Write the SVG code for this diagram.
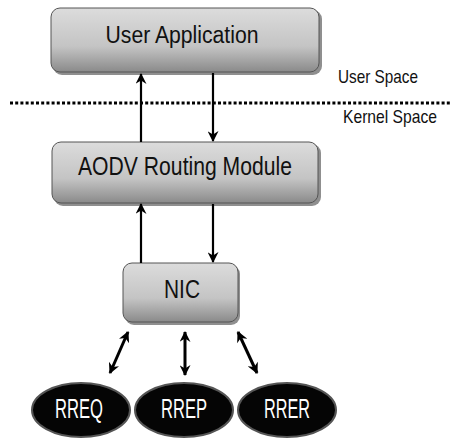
<svg xmlns="http://www.w3.org/2000/svg" width="455" height="440" viewBox="0 0 455 440">
<style>
.box{fill:url(#g);stroke:#555;stroke-width:1}
.shadow{fill:#333;opacity:0.55}
.lbl{font-family:"Liberation Sans",Arial,sans-serif;fill:#111;text-anchor:middle}
.el{fill:#050505;stroke:#555;stroke-width:2}
.wt{font-family:"Liberation Sans",Arial,sans-serif;fill:#fff;text-anchor:middle;font-size:27px}
.side{font-family:"Liberation Sans",Arial,sans-serif;fill:#111;font-size:18.5px;text-anchor:end}
.ln{stroke:#000;stroke-width:2.2;fill:none}
.ln2{stroke:#000;stroke-width:3;fill:none}
</style>
<defs>
<linearGradient id="g" x1="0" y1="0" x2="0" y2="1">
<stop offset="0" stop-color="#dcdcdc"/>
<stop offset="0.6" stop-color="#c4c4c4"/>
<stop offset="1" stop-color="#8a8a8a"/>
</linearGradient>
<marker id="ah" viewBox="0 0 10 10" refX="9" refY="5" markerWidth="12" markerHeight="11" orient="auto-start-reverse" markerUnits="userSpaceOnUse">
<path d="M0,0 L10,5 L0,10 L3,5 z" fill="#000"/>
</marker>
</defs>
<line x1="10" y1="103" x2="450" y2="103" stroke="#000" stroke-width="3" stroke-dasharray="3,2.2"/>
<text class="side" x="418" y="83" textLength="80" lengthAdjust="spacingAndGlyphs">User Space</text>
<text class="side" x="437" y="123" textLength="94" lengthAdjust="spacingAndGlyphs">Kernel Space</text>
<g id="user-app">
<rect class="shadow" x="53" y="10" width="269" height="65" rx="9"/>
<rect class="box" x="51" y="8" width="268" height="64" rx="9"/>
<text class="lbl" x="182" y="43" font-size="23" textLength="153" lengthAdjust="spacingAndGlyphs">User Application</text>
</g>
<g id="aodv">
<rect class="shadow" x="54" y="144" width="267" height="62" rx="9"/>
<rect class="box" x="52" y="142" width="266" height="61" rx="9"/>
<text class="lbl" x="185" y="175" font-size="25" textLength="214" lengthAdjust="spacingAndGlyphs">AODV Routing Module</text>
</g>
<g id="nic">
<rect class="shadow" x="125" y="265" width="115" height="60" rx="9"/>
<rect class="box" x="123" y="263" width="115" height="59" rx="9"/>
<text class="lbl" x="182" y="298" font-size="25" textLength="36" lengthAdjust="spacingAndGlyphs">NIC</text>
</g>
<g id="rreq">
<ellipse class="el" cx="81" cy="410" rx="49" ry="27"/>
<text class="wt" x="79" y="418" textLength="48" lengthAdjust="spacingAndGlyphs">RREQ</text>
</g>
<g id="rrep">
<ellipse class="el" cx="184" cy="410" rx="49" ry="27"/>
<text class="wt" x="184" y="418" textLength="46" lengthAdjust="spacingAndGlyphs">RREP</text>
</g>
<g id="rrer">
<ellipse class="el" cx="287" cy="410" rx="49" ry="27"/>
<text class="wt" x="287" y="418" textLength="46" lengthAdjust="spacingAndGlyphs">RRER</text>
</g>
<g id="connectors">
<line class="ln" x1="141" y1="142" x2="141" y2="74" marker-end="url(#ah)"/>
<line class="ln" x1="213" y1="73" x2="213" y2="141" marker-end="url(#ah)"/>
<line class="ln" x1="141" y1="263" x2="141" y2="204" marker-end="url(#ah)"/>
<line class="ln" x1="213" y1="204" x2="213" y2="262" marker-end="url(#ah)"/>
<line class="ln2" x1="128" y1="332" x2="110" y2="373" marker-start="url(#ah)" marker-end="url(#ah)"/>
<line class="ln2" x1="185" y1="332" x2="185" y2="375" marker-start="url(#ah)" marker-end="url(#ah)"/>
<line class="ln2" x1="238" y1="332" x2="257" y2="373" marker-start="url(#ah)" marker-end="url(#ah)"/>
</g>
</svg>
